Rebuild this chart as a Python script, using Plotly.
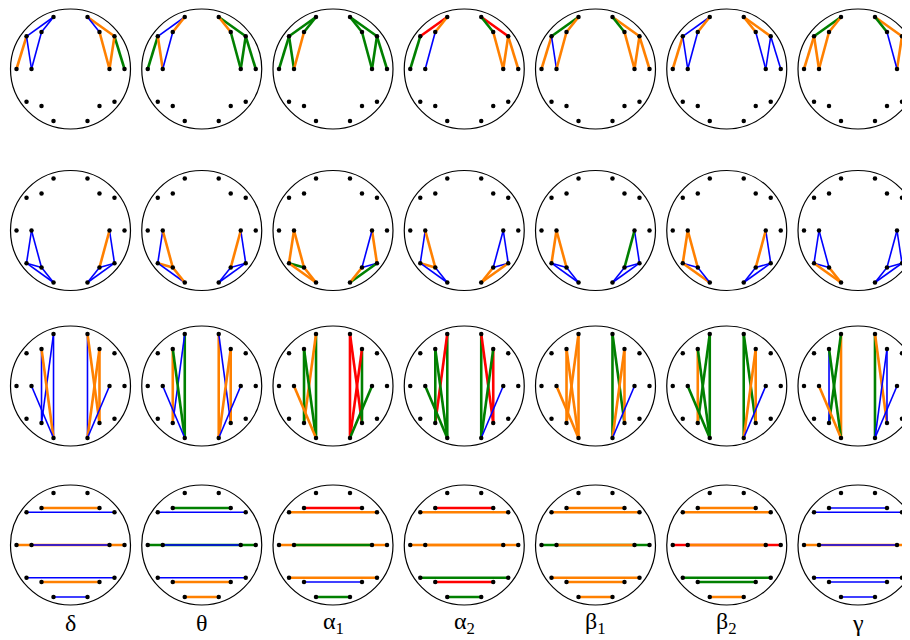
import plotly.graph_objects as go

# ---------------- data ----------------
bands = ["δ", "θ", "α<sub>1</sub>", "α<sub>2</sub>", "β<sub>1</sub>", "β<sub>2</sub>", "γ"]

# electrode positions on a unit head (x right, y up)
electrodes = ["Fp1", "Fp2", "F7", "F3", "F4", "F8", "T3", "C3", "C4", "T4",
              "T5", "P3", "P4", "T6", "O1", "O2"]
elec_x = [-0.283, 0.283, -0.733, -0.483, 0.483, 0.733, -0.9, -0.65, 0.65, 0.9,
          -0.733, -0.483, 0.483, 0.733, -0.283, 0.283]
elec_y = [0.867, 0.867, 0.545, 0.617, 0.617, 0.545, 0.0, 0.0, 0.0, 0.0,
          -0.545, -0.617, -0.617, -0.545, -0.867, -0.867]

# row 1: frontal connections
frontal_edges = [("Fp1", "F7"), ("Fp1", "F3"), ("F7", "T3"), ("F7", "C3"), ("F3", "C3"),
                 ("Fp2", "F8"), ("Fp2", "F4"), ("F8", "T4"), ("F8", "C4"), ("F4", "C4")]
frontal_colors = [
    "b b o b b o b g o o",
    "b o g o b g o g g g",
    "g g g g o g g g g g",
    "r o g - b r g o o o",
    "g o o b o o g o o o",
    "b o o b b o o b b b",
    "g o o o o o g b o b",
]

# row 2: posterior connections
posterior_edges = [("C3", "T5"), ("C3", "P3"), ("T5", "P3"), ("T5", "O1"), ("P3", "O1"),
                   ("C4", "T6"), ("C4", "P4"), ("T6", "P4"), ("T6", "O2"), ("P4", "O2")]
posterior_colors = [
    "b b b b b b o b b b",
    "b o o b o b o b b b",
    "o o g o o o b b g o",
    "b o o b b b b b o o",
    "o o b b b b g b b b",
    "o o b o b b o b b b",
    "b b b o o b b b b b",
]

# row 3: longitudinal connections
longitudinal_edges = [("Fp1", "O1"), ("Fp1", "P3"), ("F3", "P3"), ("F3", "O1"), ("C3", "O1"),
                      ("Fp2", "O2"), ("Fp2", "P4"), ("F4", "P4"), ("F4", "O2"), ("C4", "O2")]
longitudinal_colors = [
    "b b b o b b o o o b",
    "g b o g b o b o o b",
    "g o g g o r r g r g",
    "g r g g g g r r g b",
    "o o o o o g g o o b",
    "g g o g g g g o o b",
    "o g b g o g o b b b",
]

# row 4: transverse connections
transverse_edges = [("Fp1", "Fp2"), ("F3", "F4"), ("F7", "F8"), ("T3", "T4"), ("C3", "C4"),
                    ("T5", "T6"), ("P3", "P4"), ("O1", "O2")]
transverse_colors = [
    "- o b o b b o b",
    "- g b g b b o o",
    "- r o o g o b g",
    "- r o o o g r g",
    "- o o g o o o o",
    "- o o r o g g o",
    "- b b o b b b b",
]

rows = [
    (frontal_edges, frontal_colors),
    (posterior_edges, posterior_colors),
    (longitudinal_edges, longitudinal_colors),
    (transverse_edges, transverse_colors),
]

# ---------------- layout constants ----------------
col_cx = [70.5, 201.75, 333.0, 464.25, 595.5, 726.75, 858.0]
row_cy = [69.0, 230.5, 386.0, 545.0]
R = 60.0
color_map = {"b": "#0000ff", "o": "#ff8000", "g": "#008000", "r": "#ff0000"}
width_map = {"b": 1.6, "o": 2.6, "g": 2.6, "r": 2.6}

pos = {n: (x, y) for n, x, y in zip(electrodes, elec_x, elec_y)}

fig = go.Figure()
shapes = []
dot_x, dot_y = [], []

for ri, (edges, colors) in enumerate(rows):
    cy = row_cy[ri]
    for ci, cx in enumerate(col_cx):
        shapes.append(dict(type="circle", xref="x", yref="y",
                           x0=cx - R, x1=cx + R, y0=cy - R, y1=cy + R,
                           line=dict(color="black", width=1.2), layer="below"))
        codes = colors[ci].split()
        for (a, b), c in zip(edges, codes):
            if c == "-":
                continue
            ax, ay = pos[a]
            bx, by = pos[b]
            fig.add_trace(go.Scatter(
                x=[cx + ax * R, cx + bx * R], y=[cy - ay * R, cy - by * R],
                mode="lines", line=dict(color=color_map[c], width=width_map[c]),
                hoverinfo="skip", showlegend=False))
        for n in electrodes:
            ex, ey = pos[n]
            dot_x.append(cx + ex * R)
            dot_y.append(cy - ey * R)

fig.add_trace(go.Scatter(x=dot_x, y=dot_y, mode="markers",
                         marker=dict(color="black", size=4.5),
                         hoverinfo="skip", showlegend=False))

annotations = []
for ci, cx in enumerate(col_cx):
    annotations.append(dict(x=cx, y=623, xref="x", yref="y", text=bands[ci],
                            showarrow=False, yanchor="middle",
                            font=dict(family="Liberation Serif", size=24, color="black")))

# the page body has an 8px margin, so the figure is offset by 8px
fig.update_layout(
    width=902, height=632,
    margin=dict(l=0, r=0, t=0, b=0),
    paper_bgcolor="white", plot_bgcolor="white",
    shapes=shapes, annotations=annotations,
    xaxis=dict(range=[8, 910], visible=False, fixedrange=True),
    yaxis=dict(range=[640, 8], visible=False, fixedrange=True),
)

fig.write_html("out.html")
